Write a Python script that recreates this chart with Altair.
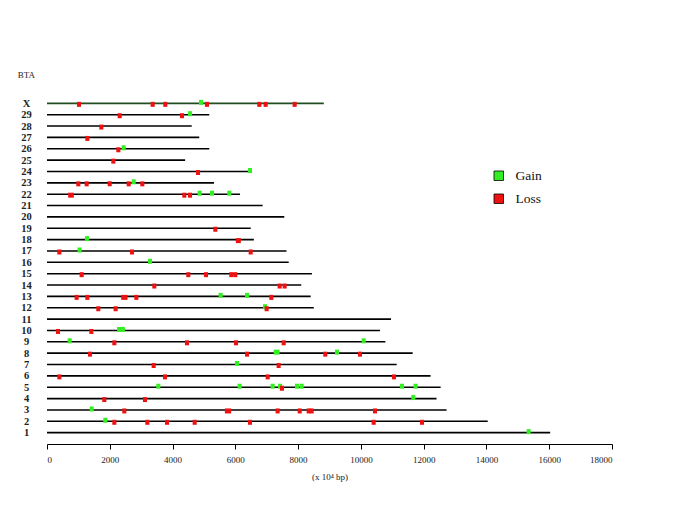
import altair as alt
import pandas as pd

# Chromosomes (top to bottom) and their lengths (x 10^4 bp)
chroms = ["X", "29", "28", "27", "26", "25", "24", "23", "22", "21", "20", "19", "18", "17", "16",
          "15", "14", "13", "12", "11", "10", "9", "8", "7", "6", "5", "4", "3", "2", "1"]
lengths = [8820, 5170, 4610, 4850, 5170, 4400, 6420, 5320, 6150, 6870, 7560, 6490, 6590, 7630, 7700,
           8440, 8100, 8400, 8500, 10960, 10610, 10780, 11650, 11140, 12220, 12540, 12410, 12730, 14040, 16030]

# CNV regions: chromosome, start, end (x 10^4 bp), type
cnv_chrom = (["X"] * 8 + ["29"] * 3 + ["28"] + ["27"] + ["26"] * 2 + ["25"] + ["24"] * 2 + ["23"] * 6 +
             ["22"] * 6 + ["19"] + ["18"] * 2 + ["17"] * 4 + ["16"] + ["15"] * 5 + ["14"] * 3 + ["13"] * 7 +
             ["12"] * 4 + ["10"] * 3 + ["9"] * 6 + ["8"] * 6 + ["7"] * 3 + ["6"] * 4 + ["5"] * 9 + ["4"] * 3 +
             ["3"] * 8 + ["2"] * 8 + ["1"])
cnv_center = [1019, 3366, 3770, 4906, 5097, 6764, 6966, 7890,
              2316, 4301, 4556,
              1730,
              1285,
              2273, 2443,
              2113,
              4810, 6467,
              998, 1264, 1997, 2603, 2762, 3037,
              765, 4375, 4556, 4863, 5256, 5808,
              5363,
              1274, 6096,
              393, 1040, 2708, 6489,
              3281,
              1104, 4502, 5065, 5872, 5999,
              3419, 7412, 7571,
              945, 1285, 2464, 2846, 5533, 6372, 7147,
              1635, 2187, 6945, 6998,
              350, 1412, 2357,
              722, 2145, 4460, 6021, 7540, 10088,
              1370, 6372, 7316, 8866, 9239, 9971,
              3398, 6053, 7380,
              393, 3759, 7030, 11054,
              3546, 6138, 7189, 7423, 7486, 7964, 8113, 11309, 11744,
              1826, 3122, 11670,
              1423, 2464, 5766, 7348, 8050, 8337, 8432, 10449,
              1858, 2145, 3196, 3823, 4705, 6467, 10407, 11946,
              15345]
cnv_width = [130] * len(cnv_center)
wide = {24: 180, 32: 160, 48: 200, 59: 250, 68: 190, 93: 200}
for i, w in wide.items():
    cnv_width[i] = w
cnv_type = (["Loss", "Loss", "Loss", "Gain", "Loss", "Loss", "Loss", "Loss"] +
            ["Loss", "Loss", "Gain"] + ["Loss"] + ["Loss"] + ["Loss", "Gain"] + ["Loss"] + ["Loss", "Gain"] +
            ["Loss", "Loss", "Loss", "Loss", "Gain", "Loss"] +
            ["Loss", "Loss", "Loss", "Gain", "Gain", "Gain"] +
            ["Loss"] + ["Gain", "Loss"] + ["Loss", "Gain", "Loss", "Loss"] + ["Gain"] +
            ["Loss"] * 5 + ["Loss"] * 3 +
            ["Loss", "Loss", "Loss", "Loss", "Gain", "Gain", "Loss"] +
            ["Loss", "Loss", "Gain", "Loss"] +
            ["Loss", "Loss", "Gain"] +
            ["Gain", "Loss", "Loss", "Loss", "Loss", "Gain"] +
            ["Loss", "Loss", "Gain", "Loss", "Gain", "Loss"] +
            ["Loss", "Gain", "Loss"] +
            ["Loss"] * 4 +
            ["Gain", "Gain", "Gain", "Gain", "Loss", "Gain", "Gain", "Gain", "Gain"] +
            ["Loss", "Loss", "Gain"] +
            ["Gain", "Loss", "Loss", "Loss", "Loss", "Loss", "Loss", "Loss"] +
            ["Gain", "Loss", "Loss", "Loss", "Loss", "Loss", "Loss", "Loss"] +
            ["Gain"])

chrom_df = pd.DataFrame({"chrom": chroms, "start": [0] * len(chroms), "length": lengths})
cnv_df = pd.DataFrame({
    "chrom": cnv_chrom,
    "start": [c - w / 2 for c, w in zip(cnv_center, cnv_width)],
    "end": [c + w / 2 for c, w in zip(cnv_center, cnv_width)],
    "type": cnv_type,
})

SERIF = "Liberation Serif"

yscale = alt.Scale(type="point", domain=chroms, padding=1.035)
xscale = alt.Scale(domain=[0, 18000], nice=False, zero=True)

x_axis = alt.Axis(values=list(range(0, 18001, 2000)), grid=False, tickSize=5, tickColor="black",
                  domainColor="black", labelFont=SERIF, labelFontSize=9, labelColor="#222",
                  labelPadding=6, title="(x 10\u2074 bp)", titleFont=SERIF, titleFontSize=9,
                  titleFontWeight="normal", titleColor="#222", titlePadding=8, format="d")
y_axis = alt.Axis(domain=False, ticks=False, grid=False, labelFont=SERIF, labelFontSize=10.5,
                  labelFontWeight="bold", labelColor="#222", labelAlign="center", labelPadding=21,
                  title=None)

lines = alt.Chart(chrom_df).mark_rule(strokeWidth=1.6).encode(
    x=alt.X("start:Q", scale=xscale, axis=x_axis),
    x2="length:Q",
    y=alt.Y("chrom:N", scale=yscale, axis=y_axis, sort=chroms),
    stroke=alt.condition("datum.chrom === 'X'", alt.value("#224d22"), alt.value("black")),
)

color = alt.Color("type:N", scale=alt.Scale(domain=["Gain", "Loss"], range=["#33ee22", "#ee1111"]),
                  legend=alt.Legend(title=None, orient="none", legendX=445, legendY=77,
                                    symbolType="square", symbolSize=90, symbolStrokeColor="black",
                                    symbolStrokeWidth=0.8, labelFont=SERIF, labelFontSize=13.5,
                                    labelColor="#111", labelOffset=10, rowPadding=8, padding=0))

gain = alt.Chart(cnv_df).transform_filter("datum.type === 'Gain'").mark_bar(size=5, yOffset=-1).encode(
    x=alt.X("start:Q", scale=xscale), x2="end:Q",
    y=alt.Y("chrom:N", scale=yscale, sort=chroms),
    color=color,
)
loss = alt.Chart(cnv_df).transform_filter("datum.type === 'Loss'").mark_bar(size=5, yOffset=1).encode(
    x=alt.X("start:Q", scale=xscale), x2="end:Q",
    y=alt.Y("chrom:N", scale=yscale, sort=chroms),
    color=color,
)

chart = alt.layer(lines, gain, loss).properties(
    width=565, height=352,
    title=alt.TitleParams(text="BTA", anchor="start", dx=-3, offset=12, fontSize=9, font=SERIF,
                          fontWeight="normal", color="#222"),
    autosize=alt.AutoSizeParams(type="none"),
    padding={"left": 39, "top": 84, "right": 65, "bottom": 55},
).configure_view(stroke=None)

chart.save("out.html", embed_options={"renderer": "svg", "actions": False})
